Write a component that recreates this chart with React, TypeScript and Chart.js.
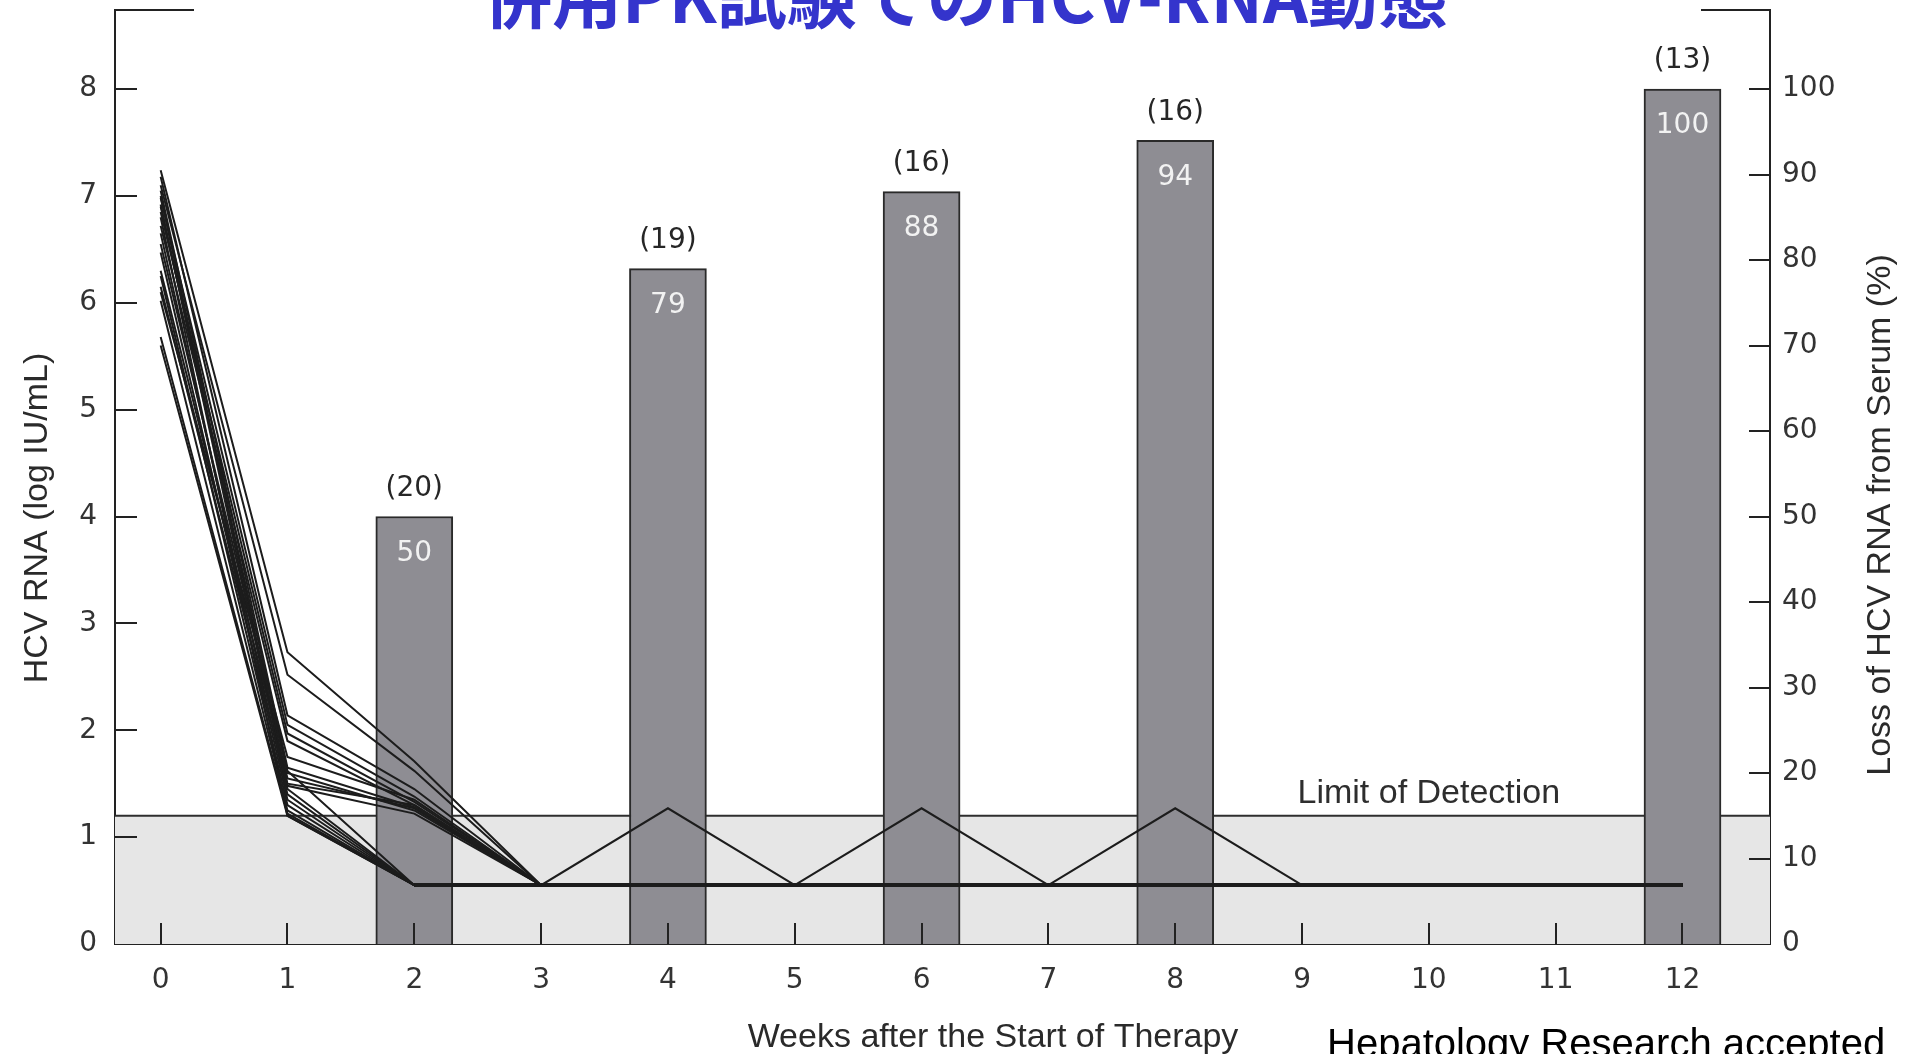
import React, { useEffect, useRef } from "react";
import { Chart, registerables } from "chart.js";

Chart.register(...registerables);

// ---- data ----
const titleText = "併用PK試験でのHCV-RNA動態";
const xTitle = "Weeks after the Start of Therapy";
const yLeftTitle = "HCV RNA (log IU/mL)";
const yRightTitle = "Loss of HCV RNA from Serum (%)";
const sourceNote = "Hepatology Research accepted";
const limitLabel = "Limit of Detection";

const weeks = [0, 1, 2, 3, 4, 5, 6, 7, 8, 9, 10, 11, 12];
const xTicks = [0, 1, 2, 3, 4, 5, 6, 7, 8, 9, 10, 11, 12];
const leftTicks = [0, 1, 2, 3, 4, 5, 6, 7, 8];
const rightTicks = [0, 10, 20, 30, 40, 50, 60, 70, 80, 90, 100];

const limitOfDetection = 1.2;
const undetectable = 0.55;

// individual patients, log IU/mL by week (null = no further sample)
const p01 = [7.24, 2.73, 1.71, 0.55, 0.55, 0.55, 0.55, 0.55, 0.55, 0.55, 0.55, 0.55, 0.55];
const p02 = [7.10, 2.52, 1.62, 0.55, 0.55, 0.55, 0.55, 0.55, 0.55, 0.55, 0.55, 0.55, 0.55];
const p03 = [7.18, 2.14, 1.45, 0.55, 0.55, 0.55, 0.55, 0.55, 0.55, 0.55, 0.55, 0.55, 0.55];
const p04 = [6.98, 2.05, 1.38, 0.55, 0.55, 0.55, 0.55, 0.55, 0.55, 0.55, 0.55, 0.55, 0.55];
const p05 = [6.85, 1.97, 1.33, 0.55, 0.55, 0.55, 0.55, 0.55, 0.55, 0.55, 0.55, 0.55, 0.55];
const p06 = [6.72, 1.90, 1.30, 0.55, 0.55, 0.55, 0.55, 0.55, 0.55, 0.55, 0.55, 0.55, 0.55];
const p07 = [7.05, 1.65, 1.28, 0.55, 0.55, 0.55, 0.55, 0.55, 0.55, 0.55, 0.55, 0.55, 0.55];
const p08 = [6.55, 1.60, 1.25, 0.55, 0.55, 0.55, 0.55, 0.55, 0.55, 0.55, null, null, null];
const p09 = [6.30, 1.55, 1.27, 0.55, 0.55, 0.55, 0.55, 0.55, 0.55, 0.55, 0.55, 0.55, 0.55];
const p10 = [6.15, 1.48, 1.22, 0.55, 0.55, 0.55, 0.55, 0.55, 0.55, 0.55, 0.55, 0.55, 0.55];
const p11 = [6.92, 1.45, 0.55, 0.55, 0.55, 0.55, 0.55, 0.55, 0.55, 0.55, 0.55, 0.55, 0.55];
const p12 = [6.65, 1.40, 0.55, 0.55, 0.55, 0.55, 0.55, 0.55, null, null, null, null, null];
const p13 = [6.47, 1.35, 0.55, 0.55, 0.55, 0.55, 0.55, 0.55, 0.55, 0.55, 0.55, 0.55, 0.55];
const p14 = [6.25, 1.30, 0.55, 0.55, 0.55, 0.55, 0.55, 0.55, 0.55, 0.55, 0.55, 0.55, 0.55];
const p15 = [6.02, 1.25, 0.55, 0.55, 0.55, 0.55, 0.55, 0.55, 0.55, 0.55, 0.55, 0.55, 0.55];
const p16 = [5.68, 1.22, 0.55, 0.55, 0.55, 0.55, 0.55, 0.55, 0.55, 0.55, 0.55, 0.55, 0.55];
const p17 = [5.60, 1.20, 0.55, 0.55, 0.55, 0.55, 0.55, 0.55, 0.55, 0.55, 0.55, 0.55, 0.55];
const p18 = [6.80, 1.20, 0.55, 0.55, 0.55, 0.55, 0.55, 0.55, 0.55, 0.55, 0.55, 0.55, 0.55];
const p19 = [6.10, 1.75, 1.35, 0.55, 1.27, 0.55, 0.55, 0.55, 0.55, 0.55, 0.55, 0.55, 0.55];
const p20 = [6.90, 1.62, 0.55, 0.55, 0.55, 0.55, 1.27, 0.55, 0.55, 0.55, 0.55, 0.55, 0.55];
const p21 = [7.00, 1.50, 1.30, 0.55, 0.55, 0.55, 0.55, 0.55, 1.27, 0.55, null, null, null];
const patients = [p01, p02, p03, p04, p05, p06, p07, p08, p09, p10, p11, p12, p13, p14, p15, p16, p17, p18, p19, p20, p21];

// bars: loss of HCV RNA (%) and number of patients
const barWeeks = [2, 4, 6, 8, 12];
const barLoss = [50, 79, 88, 94, 100];
const barCounts = ["(20)", "(19)", "(16)", "(16)", "(13)"];

// ---- styling ----
const AXIS = "#222222";
const TICKTXT = "#333333";
const LINE = "#1c1c1c";
const BAR = "#8e8d93";
const BAND = "#e6e6e6";
const TICK_FONT = "DejaVu Sans";
const TEXT_FONT = "Liberation Sans";

const overlayPlugin = {
  id: "overlay",
  beforeDatasetsDraw(chart: any) {
    const { ctx, chartArea } = chart;
    const yL = chart.scales.yL;
    const yTop = yL.getPixelForValue(limitOfDetection);
    const yBot = yL.getPixelForValue(0);
    ctx.save();
    ctx.fillStyle = BAND;
    ctx.fillRect(chartArea.left, yTop, chartArea.right - chartArea.left, yBot - yTop);
    ctx.strokeStyle = "#2e2e2e";
    ctx.lineWidth = 2;
    ctx.beginPath();
    ctx.moveTo(chartArea.left, yTop);
    ctx.lineTo(chartArea.right, yTop);
    ctx.stroke();
    ctx.restore();
  },
  afterDatasetsDraw(chart: any) {
    const { ctx, chartArea } = chart;
    const x = chart.scales.x;
    const yL = chart.scales.yL;
    const yR = chart.scales.yR;
    ctx.save();
    ctx.strokeStyle = AXIS;
    ctx.lineWidth = 2;
    ctx.beginPath();
    leftTicks.forEach((v) => {
      if (v === 0) return;
      const py = Math.round(yL.getPixelForValue(v));
      ctx.moveTo(chartArea.left, py);
      ctx.lineTo(chartArea.left + 22, py);
    });
    rightTicks.forEach((v) => {
      if (v === 0) return;
      const py = Math.round(yR.getPixelForValue(v));
      ctx.moveTo(chartArea.right - 21, py);
      ctx.lineTo(chartArea.right, py);
    });
    xTicks.forEach((w) => {
      const px = Math.round(x.getPixelForValue(w));
      ctx.moveTo(px, chartArea.bottom);
      ctx.lineTo(px, chartArea.bottom - 21);
    });
    ctx.stroke();

    // bar labels
    const meta = chart.getDatasetMeta(0);
    ctx.textAlign = "center";
    ctx.textBaseline = "middle";
    ctx.font = `28px "${TICK_FONT}"`;
    meta.data.forEach((bar: any, i: number) => {
      ctx.fillStyle = "#262626";
      ctx.fillText(barCounts[i], bar.x, bar.y - 28);
      ctx.fillStyle = "#f2f2f2";
      ctx.fillText(String(barLoss[i]), bar.x, bar.y + 37);
    });

    // limit of detection label
    ctx.fillStyle = "#2e2e2e";
    ctx.font = `34px "${TEXT_FONT}"`;
    ctx.fillText(limitLabel, x.getPixelForValue(10), yL.getPixelForValue(limitOfDetection) - 22);
    ctx.restore();
  },
  afterDraw(chart: any) {
    const { ctx, chartArea } = chart;
    ctx.save();
    // top frame remnants
    ctx.strokeStyle = AXIS;
    ctx.lineWidth = 2;
    ctx.beginPath();
    ctx.moveTo(chartArea.left - 1, chartArea.top);
    ctx.lineTo(194, chartArea.top);
    ctx.moveTo(1701, chartArea.top);
    ctx.lineTo(chartArea.right + 1, chartArea.top);
    ctx.stroke();

    // title
    ctx.fillStyle = "#3434cc";
    ctx.font = `bold 70px "Noto Sans CJK JP"`;
    ctx.textAlign = "center";
    ctx.textBaseline = "alphabetic";
    ctx.fillText(titleText, 965, 23);

    // axis titles
    ctx.fillStyle = "#2a2a2a";
    ctx.font = `34px "${TEXT_FONT}"`;
    ctx.textAlign = "center";
    ctx.textBaseline = "middle";
    ctx.save();
    ctx.translate(38, 518);
    ctx.rotate(-Math.PI / 2);
    ctx.fillText(yLeftTitle, 0, 0);
    ctx.restore();
    ctx.save();
    ctx.translate(1881, 515);
    ctx.rotate(-Math.PI / 2);
    ctx.fillText(yRightTitle, 0, 0);
    ctx.restore();
    ctx.textBaseline = "alphabetic";
    ctx.fillText(xTitle, 993, 1047);

    // source note
    ctx.fillStyle = "#000000";
    ctx.font = `40px "${TEXT_FONT}"`;
    ctx.textAlign = "left";
    ctx.fillText(sourceNote, 1327, 1057);
    ctx.restore();
  },
};

const zeroPad = (s: any) => {
  s.paddingTop = 0;
  s.paddingBottom = 0;
  s.paddingLeft = 0;
  s.paddingRight = 0;
};

export default function App() {
  const ref = useRef<HTMLCanvasElement | null>(null);

  useEffect(() => {
    if (!ref.current) return;
    const floorSeg = (c: any) =>
      c.p0.parsed.y === undetectable && c.p1.parsed.y === undetectable ? 3.5 : 2;

    const lineSets = patients.map((p, idx) => ({
      type: "line" as const,
      label: `patient ${idx + 1}`,
      data: weeks
        .map((w, i) => ({ x: w, y: p[i] }))
        .filter((d) => d.y !== null),
      yAxisID: "yL",
      xAxisID: "x",
      borderColor: LINE,
      borderWidth: 2,
      pointRadius: 0,
      tension: 0,
      fill: false,
      order: 0,
      segment: { borderWidth: floorSeg },
    }));

    const chart = new Chart(ref.current, {
      type: "line",
      data: {
        datasets: [
          {
            type: "bar" as const,
            label: "Loss of HCV RNA (%)",
            data: barWeeks.map((w, i) => ({ x: w, y: barLoss[i] })),
            yAxisID: "yR",
            xAxisID: "x",
            backgroundColor: BAR,
            borderColor: "#2a2a2a",
            borderWidth: 2,
            borderSkipped: "bottom",
            barThickness: 77,
            order: 1,
          } as any,
          ...lineSets,
        ],
      },
      options: {
        responsive: false,
        animation: false,
        devicePixelRatio: 1,
        layout: { padding: { top: 10, left: 0, right: 0, bottom: 0 } },
        plugins: {
          legend: { display: false },
          tooltip: { enabled: false },
          title: { display: false },
        },
        scales: {
          x: {
            type: "linear",
            position: "bottom",
            min: -0.36,
            max: 12.69,
            offset: false,
            afterFit: (s: any) => {
              s.height = 110;
              zeroPad(s);
            },
            afterBuildTicks: (s: any) => {
              s.ticks = xTicks.map((v) => ({ value: v }));
            },
            grid: { display: false, drawTicks: false },
            border: { display: true, color: AXIS, width: 2 },
            ticks: {
              padding: 20,
              autoSkip: false,
              maxRotation: 0,
              color: TICKTXT,
              font: { family: TICK_FONT, size: 28 },
            },
          },
          yL: {
            type: "linear",
            position: "left",
            min: 0,
            max: 8.74,
            afterFit: (s: any) => {
              s.width = 115;
              zeroPad(s);
            },
            afterBuildTicks: (s: any) => {
              s.ticks = leftTicks.map((v) => ({ value: v }));
            },
            grid: { display: false, drawTicks: false },
            border: { display: true, color: AXIS, width: 2 },
            ticks: {
              padding: 18,
              color: TICKTXT,
              font: { family: TICK_FONT, size: 28 },
            },
          },
          yR: {
            type: "linear",
            position: "right",
            min: 0,
            max: 109.25,
            afterFit: (s: any) => {
              s.width = 135;
              zeroPad(s);
            },
            afterBuildTicks: (s: any) => {
              s.ticks = rightTicks.map((v) => ({ value: v }));
            },
            grid: { display: false, drawTicks: false },
            border: { display: true, color: AXIS, width: 2 },
            ticks: {
              padding: 12,
              color: TICKTXT,
              font: { family: TICK_FONT, size: 28 },
            },
          },
        },
      } as any,
      plugins: [overlayPlugin],
    });
    return () => chart.destroy();
  }, []);

  return (
    <div style={{ position: "fixed", left: 0, top: 0, width: 1905, height: 1054, background: "#ffffff" }}>
      <canvas ref={ref} width={1905} height={1054} style={{ width: 1905, height: 1054, display: "block" }} />
    </div>
  );
}
